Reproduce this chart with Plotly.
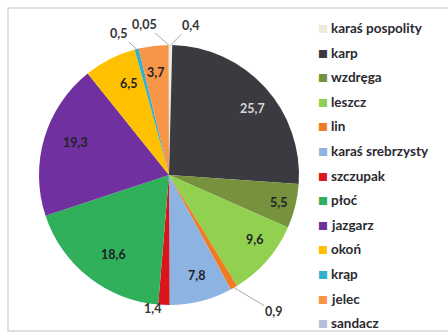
import math
import plotly.graph_objects as go

# Species composition of the catch (% share)
species = ["karaś pospolity", "karp", "wzdręga", "leszcz", "lin", "karaś srebrzysty",
           "szczupak", "płoć", "jazgarz", "okoń", "krąp", "jelec", "sandacz"]
shares = [0.4, 25.7, 5.5, 9.6, 0.9, 7.8, 1.4, 18.6, 19.3, 6.5, 0.5, 3.7, 0.05]
colors = ["#eeecd8", "#3b3a40", "#76923c", "#92d050", "#f07c22", "#8db3e2",
          "#d9161e", "#30b05a", "#7030a0", "#ffc000", "#33b0cc", "#f79646", "#b8c0d8"]

# small slices get an outside label: offset of the text from the rim (px)
outside_offsets = {
    "karaś pospolity": (20, -20, True),
    "sandacz": (-24, -21, True),
    "krąp": (-18, -16, True),
    "lin": (40, 24, True),
    "szczupak": (-11, 13, False),
}

W, H = 448, 336
CX, CY, R = 169, 175, 130
FONT = "Lato"
LEG_X, LEG_Y0, LEG_STEP = 323, 28, 24.6


def fmt(v):
    return f"{v:g}".replace(".", ",")


def to_paper(px, py):
    return px / W, 1 - py / H


def polar(theta_deg, r):
    t = math.radians(theta_deg)
    return CX + r * math.sin(t), CY - r * math.cos(t)


x0, y0 = to_paper(CX - R, CY + R)
x1, y1 = to_paper(CX + R, CY - R)

fig = go.Figure(go.Pie(
    labels=species,
    values=shares,
    sort=False,
    direction="clockwise",
    rotation=0,
    marker=dict(colors=colors, line=dict(width=0)),
    textinfo="none",
    hoverinfo="skip",
    showlegend=False,
    domain=dict(x=[x0, x1], y=[y0, y1]),
))

annotations = []
label_font = dict(family=FONT, size=12.5, color="#333333", weight="bold")
total = sum(shares)
cum = 0.0
for name, v in zip(species, shares):
    mid = 360 * (cum + v / 2) / total
    cum += v
    if name in outside_offsets:
        dx, dy, leader = outside_offsets[name]
        ex, ey = polar(mid, R)
        if leader:
            px, py = to_paper(ex, ey)
            annotations.append(dict(
                x=px, y=py, xref="paper", yref="paper", text=fmt(v),
                showarrow=True, ax=dx, ay=dy, arrowhead=0, arrowwidth=1,
                arrowcolor="#a8a8a8", standoff=0, font=label_font))
        else:
            px, py = to_paper(ex + dx, ey + dy)
            annotations.append(dict(
                x=px, y=py, xref="paper", yref="paper", text=fmt(v),
                showarrow=False, font=label_font))
    else:
        lx, ly = polar(mid, 0.87 * R)
        px, py = to_paper(lx, ly)
        tcol = "#d6d6dc" if name == "karp" else "#1e2228"
        annotations.append(dict(
            x=px, y=py, xref="paper", yref="paper", text=fmt(v),
            showarrow=False, font=dict(label_font, color=tcol)))

# legend column: colour key square + species name
for i, (name, col) in enumerate(zip(species, colors)):
    ly = LEG_Y0 + i * LEG_STEP
    mx, my = to_paper(LEG_X, ly)
    annotations.append(dict(
        x=mx, y=my, xref="paper", yref="paper", text="■",
        xanchor="center", yanchor="middle", showarrow=False,
        font=dict(family="DejaVu Sans", size=10.5, color=col)))
    tx, ty = to_paper(LEG_X + 6, ly)
    annotations.append(dict(
        x=tx, y=ty, xref="paper", yref="paper", text=name,
        xanchor="left", yanchor="middle", showarrow=False,
        font=dict(family=FONT, size=13.5, color="#2a2a30", weight="bold")))

fig.update_layout(
    width=W, height=H,
    margin=dict(l=0, r=0, t=0, b=0),
    paper_bgcolor="white",
    plot_bgcolor="white",
    showlegend=False,
    annotations=annotations,
    shapes=[dict(type="rect", xref="paper", yref="paper",
                 x0=8 / W, x1=1.01, y0=1 - 331 / H, y1=1 - 8 / H,
                 line=dict(color="#d8d8d8", width=1.5), layer="below")],
)

fig.write_html("out.html")
